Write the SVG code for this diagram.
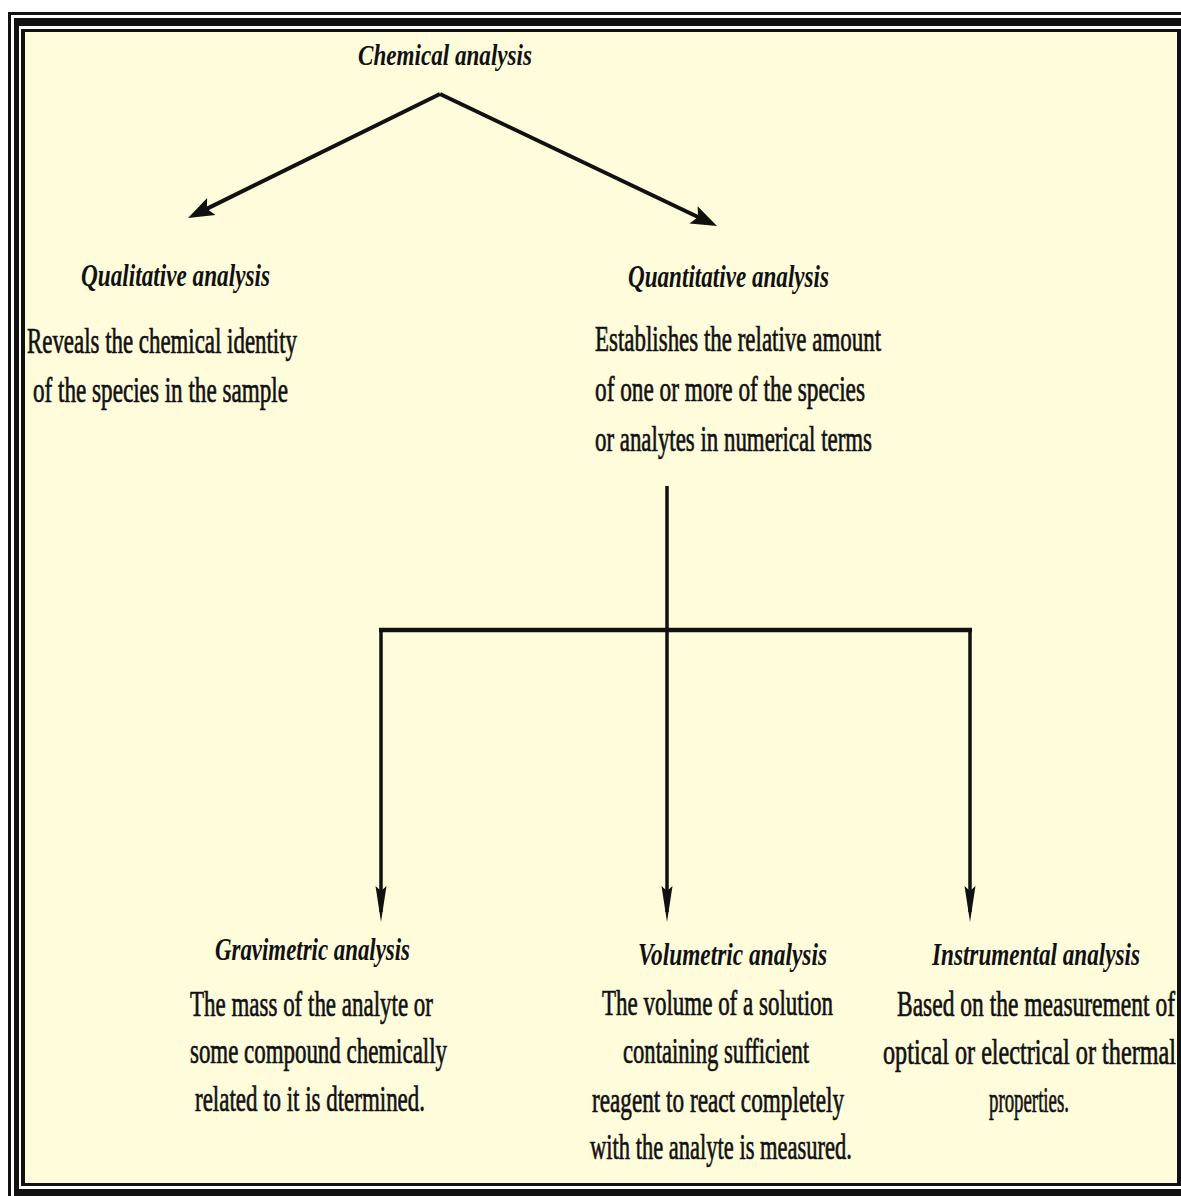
<svg xmlns="http://www.w3.org/2000/svg" width="1181" height="1196" viewBox="0 0 1181 1196">
  <style>
    .hdr { font-family: "Liberation Serif", "Times New Roman", serif; font-style: italic; font-weight: bold; font-size: 32px; fill: #111; }
    .title { font-family: "Liberation Serif", "Times New Roman", serif; font-style: italic; font-weight: bold; font-size: 30px; fill: #111; }
    .body { font-family: "Liberation Serif", "Times New Roman", serif; font-size: 36px; fill: #111; stroke: #111; stroke-width: 0.7px; }
    .conn { fill: none; stroke: #111; }
  </style>
  <defs>
    <marker id="headBig" markerUnits="userSpaceOnUse" markerWidth="30" markerHeight="22" refX="16" refY="11" orient="auto" overflow="visible">
      <path d="M26,11 L0,1.5 L5,11 L0,20.5 Z" fill="#111"/>
    </marker>
    <marker id="headNarrow" markerUnits="userSpaceOnUse" markerWidth="40" markerHeight="14" refX="26" refY="7" orient="auto" overflow="visible">
      <path d="M36,7 L0,1.5 L5,7 L0,12.5 Z" fill="#111"/>
    </marker>
  </defs>

  <!-- frame -->
  <rect x="0" y="0" width="1181" height="1196" fill="#ffffff"/>
  <rect x="8" y="12" width="1173" height="1184" fill="#111"/>
  <rect x="11" y="15" width="1170" height="1181" fill="#ffffff"/>
  <rect x="14" y="18" width="1167" height="1178" fill="#111"/>
  <rect x="19" y="26" width="1162" height="1163" fill="#ffffff"/>
  <rect x="21" y="29" width="1160" height="1157" fill="#111"/>
  <rect x="25" y="32" width="1152" height="1151" fill="#fffcdc"/>

  <g id="connectors">
    <line class="conn" x1="440" y1="94" x2="197" y2="213.6" stroke-width="4" marker-end="url(#headBig)"/>
    <line class="conn" x1="440" y1="94" x2="708" y2="221.7" stroke-width="4" marker-end="url(#headBig)"/>
    <line class="conn" x1="667" y1="486" x2="667" y2="912" stroke-width="3.5" marker-end="url(#headNarrow)"/>
    <line class="conn" x1="379" y1="630" x2="972" y2="630" stroke-width="4.5"/>
    <line class="conn" x1="381" y1="630" x2="381" y2="912" stroke-width="3.5" marker-end="url(#headNarrow)"/>
    <line class="conn" x1="970" y1="630" x2="970" y2="912" stroke-width="3.5" marker-end="url(#headNarrow)"/>
  </g>

  <g id="chemical-analysis">
    <text class="title" x="358" y="65" textLength="174" lengthAdjust="spacingAndGlyphs">Chemical analysis</text>
  </g>

  <g id="qualitative-analysis">
    <text class="hdr" x="81" y="286" textLength="189" lengthAdjust="spacingAndGlyphs">Qualitative analysis</text>
    <text class="body" x="27" y="353" textLength="270" lengthAdjust="spacingAndGlyphs">Reveals the chemical identity</text>
    <text class="body" x="33" y="402" textLength="255" lengthAdjust="spacingAndGlyphs">of the species in the sample</text>
  </g>

  <g id="quantitative-analysis">
    <text class="hdr" x="628" y="287" textLength="201" lengthAdjust="spacingAndGlyphs">Quantitative analysis</text>
    <text class="body" x="595" y="351" textLength="286" lengthAdjust="spacingAndGlyphs">Establishes the relative amount</text>
    <text class="body" x="595" y="401" textLength="270" lengthAdjust="spacingAndGlyphs">of one or more of the species</text>
    <text class="body" x="595" y="451" textLength="277" lengthAdjust="spacingAndGlyphs">or analytes in numerical terms</text>
  </g>

  <g id="gravimetric-analysis">
    <text class="hdr" x="215" y="960" textLength="195" lengthAdjust="spacingAndGlyphs">Gravimetric analysis</text>
    <text class="body" x="190" y="1016" textLength="243" lengthAdjust="spacingAndGlyphs">The mass of the analyte or</text>
    <text class="body" x="190" y="1063" textLength="257" lengthAdjust="spacingAndGlyphs">some compound chemically</text>
    <text class="body" x="195" y="1111" textLength="230" lengthAdjust="spacingAndGlyphs">related to it is dtermined.</text>
  </g>

  <g id="volumetric-analysis">
    <text class="hdr" x="638" y="965" textLength="189" lengthAdjust="spacingAndGlyphs">Volumetric analysis</text>
    <text class="body" x="602" y="1015" textLength="231" lengthAdjust="spacingAndGlyphs">The volume of a solution</text>
    <text class="body" x="623" y="1063" textLength="186" lengthAdjust="spacingAndGlyphs">containing sufficient</text>
    <text class="body" x="592" y="1112" textLength="252" lengthAdjust="spacingAndGlyphs">reagent to react completely</text>
    <text class="body" x="590" y="1159" textLength="262" lengthAdjust="spacingAndGlyphs">with the analyte is measured.</text>
  </g>

  <g id="instrumental-analysis">
    <text class="hdr" x="932" y="965" textLength="208" lengthAdjust="spacingAndGlyphs">Instrumental analysis</text>
    <text class="body" x="897" y="1016" textLength="278" lengthAdjust="spacingAndGlyphs">Based on the measurement of</text>
    <text class="body" x="883" y="1064" textLength="293" lengthAdjust="spacingAndGlyphs">optical or electrical or thermal</text>
    <text class="body" x="989" y="1112" textLength="80" lengthAdjust="spacingAndGlyphs">properties.</text>
  </g>
</svg>
